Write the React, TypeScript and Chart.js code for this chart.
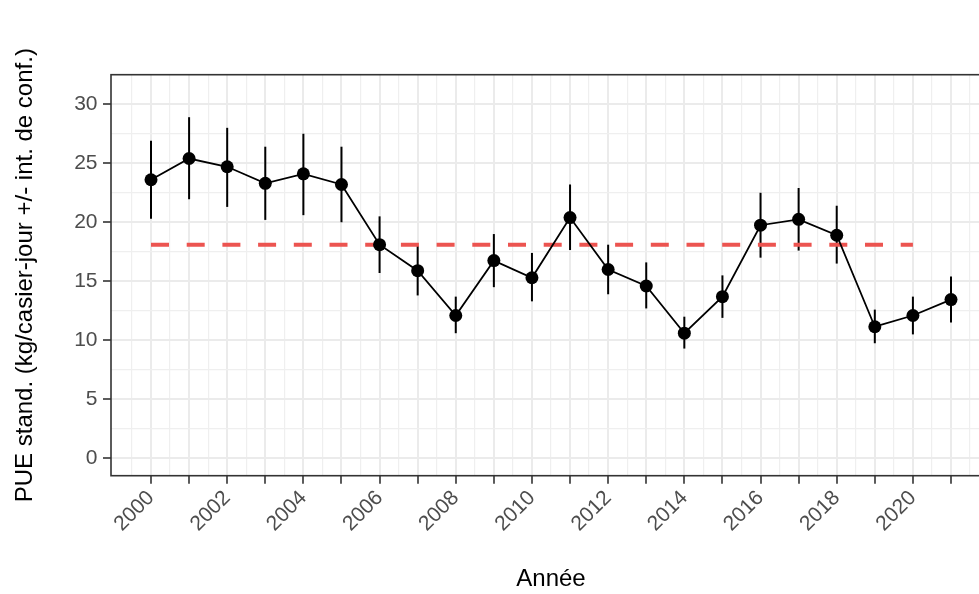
import { useEffect, useRef } from "react";
import { Chart, registerables } from "chart.js";

Chart.register(...registerables);

// Standardised CPUE per year with its confidence interval
const years = [2000, 2001, 2002, 2003, 2004, 2005, 2006, 2007, 2008, 2009, 2010, 2011, 2012, 2013, 2014, 2015, 2016, 2017, 2018, 2019, 2020, 2021];
const pue = [23.6, 25.4, 24.7, 23.3, 24.1, 23.2, 18.1, 15.9, 12.1, 16.75, 15.3, 20.4, 16.0, 14.6, 10.6, 13.7, 19.75, 20.25, 18.9, 11.15, 12.1, 13.45];
const lower = [20.3, 21.95, 21.3, 20.2, 20.6, 20.0, 15.7, 13.8, 10.6, 14.5, 13.3, 17.65, 13.9, 12.7, 9.3, 11.9, 17.0, 17.6, 16.5, 9.75, 10.5, 11.5];
const upper = [26.9, 28.9, 28.0, 26.4, 27.5, 26.4, 20.5, 18.0, 13.7, 19.0, 17.4, 23.2, 18.1, 16.6, 12.0, 15.5, 22.5, 22.9, 21.4, 12.6, 13.7, 15.4];

// Reference level (mean over the period)
const refYears = [2000, 2020];
const refLevel = 18.1;

// Axis breaks
const xMajor = years;
const xMinor = [1999.5, 2000.5, 2001.5, 2002.5, 2003.5, 2004.5, 2005.5, 2006.5, 2007.5, 2008.5, 2009.5, 2010.5, 2011.5, 2012.5, 2013.5, 2014.5, 2015.5, 2016.5, 2017.5, 2018.5, 2019.5, 2020.5, 2021.5];
const xLabelled = [2000, 2002, 2004, 2006, 2008, 2010, 2012, 2014, 2016, 2018, 2020];
const yMajor = [0, 5, 10, 15, 20, 25, 30];
const yMinor = [2.5, 7.5, 12.5, 17.5, 22.5, 27.5];

const FONT = "'Liberation Sans', Arial, Helvetica, sans-serif";
const INK = "#333333";
const GRID = "#EBEBEB";
const GRID_MINOR = "#EFEFEF";

const isMajor = (list: number[], v: number) => list.some((m) => Math.abs(m - v) < 1e-6);

const errorBars = {
  id: "errorBars",
  beforeDatasetsDraw(chart: any) {
    const { ctx, scales } = chart;
    ctx.save();
    ctx.strokeStyle = "#000000";
    ctx.lineWidth = 2;
    years.forEach((yr, i) => {
      const x = scales.x.getPixelForValue(yr);
      ctx.beginPath();
      ctx.moveTo(x, scales.y.getPixelForValue(lower[i]));
      ctx.lineTo(x, scales.y.getPixelForValue(upper[i]));
      ctx.stroke();
    });
    ctx.restore();
  },
};

const panelBorder = {
  id: "panelBorder",
  afterDatasetsDraw(chart: any) {
    const { ctx, chartArea } = chart;
    ctx.save();
    ctx.strokeStyle = INK;
    ctx.lineWidth = 1.6;
    ctx.strokeRect(chartArea.left, chartArea.top, chartArea.right - chartArea.left, chartArea.bottom - chartArea.top);
    ctx.restore();
  },
};

export default function App() {
  const canvasRef = useRef<HTMLCanvasElement | null>(null);

  useEffect(() => {
    const canvas = canvasRef.current;
    if (!canvas) return;

    const chart = new Chart(canvas, {
      type: "line",
      data: {
        datasets: [
          {
            label: "PUE",
            data: years.map((yr, i) => ({ x: yr, y: pue[i] })),
            borderColor: "#000000",
            borderWidth: 1.8,
            pointRadius: 6.5,
            pointHoverRadius: 6.5,
            pointBorderWidth: 0,
            pointBackgroundColor: "#000000",
            tension: 0,
            order: 1,
          },
          {
            label: "Moyenne",
            data: refYears.map((yr) => ({ x: yr, y: refLevel })),
            borderColor: "#EC5450",
            borderWidth: 4,
            borderDash: [18, 17.7],
            borderCapStyle: "butt",
            pointRadius: 0,
            tension: 0,
            order: 2,
          },
        ],
      },
      options: {
        responsive: false,
        animation: false,
        events: [],
        layout: { padding: { left: 0, top: 74.7, right: 9, bottom: 0 } },
        plugins: {
          legend: { display: false },
          tooltip: { enabled: false },
        },
        scales: {
          x: {
            type: "linear",
            min: 1998.95,
            max: 2022.05,
            afterBuildTicks: (scale: any) => {
              scale.ticks = [...xMajor, ...xMinor].sort((a, b) => a - b).map((v) => ({ value: v }));
            },
            afterFit: (scale: any) => {
              scale.height = 594 - 475.7;
            },
            border: { display: false },
            grid: {
              color: (c: any) => (isMajor(xMajor, c.tick.value) ? GRID : GRID_MINOR),
              lineWidth: (c: any) => (isMajor(xMajor, c.tick.value) ? 2 : 1.2),
              tickColor: (c: any) => (isMajor(xMajor, c.tick.value) ? INK : "rgba(0,0,0,0)"),
              tickWidth: 1.6,
              tickLength: 8,
            },
            ticks: {
              autoSkip: false,
              minRotation: 45,
              maxRotation: 45,
              padding: 2,
              color: "#4D4D4D",
              font: { family: FONT, size: 21 },
              callback: (v: any) => (isMajor(xLabelled, Number(v)) ? String(v) : ""),
            },
            title: {
              display: true,
              text: "Année",
              color: "#000000",
              font: { family: FONT, size: 24 },
              padding: { top: 0, bottom: 0 },
            },
          },
          y: {
            type: "linear",
            min: -1.47,
            max: 32.5,
            afterBuildTicks: (scale: any) => {
              scale.ticks = [...yMajor, ...yMinor].sort((a, b) => a - b).map((v) => ({ value: v }));
            },
            afterFit: (scale: any) => {
              scale.width = 111;
            },
            border: { display: false },
            grid: {
              color: (c: any) => (isMajor(yMajor, c.tick.value) ? GRID : GRID_MINOR),
              lineWidth: (c: any) => (isMajor(yMajor, c.tick.value) ? 2 : 1.2),
              tickColor: (c: any) => (isMajor(yMajor, c.tick.value) ? INK : "rgba(0,0,0,0)"),
              tickWidth: 1.6,
              tickLength: 8,
            },
            ticks: {
              padding: 5.5,
              color: "#4D4D4D",
              font: { family: FONT, size: 21 },
              callback: (v: any) => (isMajor(yMajor, Number(v)) ? String(v) : ""),
            },
            title: {
              display: true,
              text: "PUE stand. (kg/casier-jour +/- int. de conf.)",
              color: "#000000",
              font: { family: FONT, size: 24 },
              padding: { top: 11, bottom: 0 },
            },
          },
        },
      },
      plugins: [errorBars, panelBorder],
    } as any);

    return () => chart.destroy();
  }, []);

  return (
    <div
      style={{
        position: "fixed",
        left: 0,
        top: 0,
        width: 979,
        height: 594,
        overflow: "hidden",
        background: "#ffffff",
      }}
    >
      <canvas ref={canvasRef} width={1000} height={594} style={{ display: "block" }} />
    </div>
  );
}
